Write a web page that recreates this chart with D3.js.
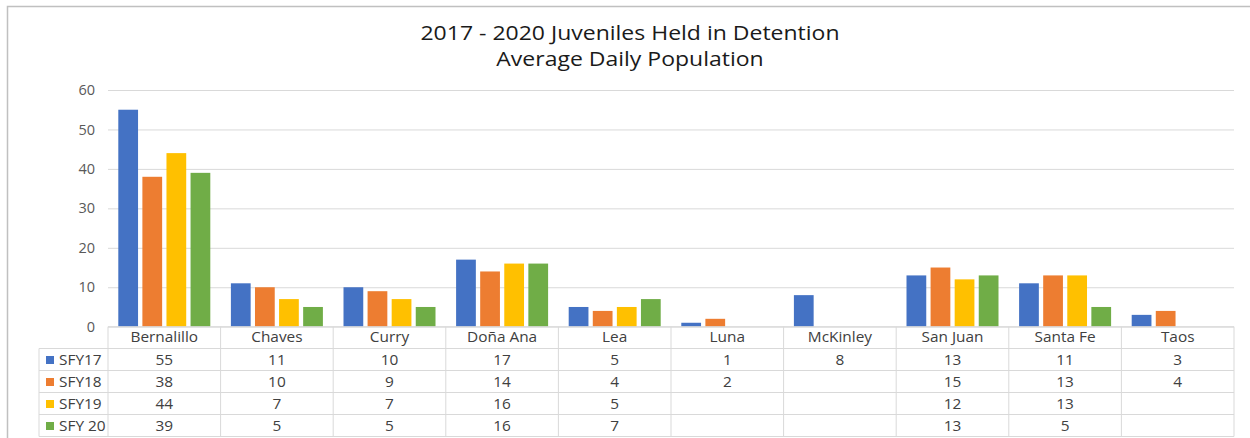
<!DOCTYPE html>
<html>
<head>
<meta charset="utf-8">
<script src="https://cdn.jsdelivr.net/npm/d3@7"></script>
<style>
  body { margin: 0; background: #fff; }
  svg { display: block; }
  text { font-family: "Open Sans", Lato, sans-serif; }
</style>
</head>
<body>
<svg id="chart" width="1250" height="438"></svg>
<script>
// Average daily juvenile detention population by county, SFY17–SFY20
const categories = ["Bernalillo", "Chaves", "Curry", "Doña Ana", "Lea", "Luna", "McKinley", "San Juan", "Santa Fe", "Taos"];
const seriesNames = ["SFY17", "SFY18", "SFY19", "SFY 20"];
const sfy17 = [55, 11, 10, 17, 5, 1, 8, 13, 11, 3];
const sfy18 = [38, 10, 9, 14, 4, 2, null, 15, 13, 4];
const sfy19 = [44, 7, 7, 16, 5, null, null, 12, 13, null];
const sfy20 = [39, 5, 5, 16, 7, null, null, 13, 5, null];
const seriesColors = ["#4472C4", "#ED7D31", "#FFC000", "#70AD47"];
const yTicks = [0, 10, 20, 30, 40, 50, 60];
const titleLines = ["2017 - 2020 Juveniles Held in Detention", "Average Daily Population"];

const seriesValues = [sfy17, sfy18, sfy19, sfy20];
const series = seriesNames.map((name, i) => ({
  name,
  color: seriesColors[i],
  values: categories.map((c, j) => ({ category: c, value: seriesValues[i][j] }))
}));

const svg = d3.select("#chart");
const gridColor = "#d9d9d9";
const labelColor = "#404040";
const labelSize = 14;
const textWiden = 1.1;   // slightly wide lettering for table and title

// Outer chart frame
svg.append("rect")
  .attr("x", 7.5).attr("y", 6.5)
  .attr("width", 1260).attr("height", 450)
  .attr("fill", "#fff")
  .attr("stroke", "#c0c0c0")
  .attr("stroke-width", 1.5);

// Title
svg.append("g").selectAll("text")
  .data(titleLines)
  .join("text")
  .attr("transform", (d, i) => `translate(630,${40 + i * 25.7}) scale(1.15,1)`)
  .attr("text-anchor", "middle")
  .attr("font-size", 20)
  .attr("fill", "#1a1a1a")
  .text(d => d);

// Scales
const plotLeft = 108, plotRight = 1234;
const x0 = d3.scaleBand().domain(categories).range([plotLeft, plotRight]);
const groupPad = 10.3;
const x1 = d3.scaleBand().domain(seriesNames)
  .range([groupPad, x0.bandwidth() - groupPad])
  .paddingInner(0.18);
const y = d3.scaleLinear().domain([0, 60]).range([326.7, 90]);

// Y axis with gridlines
const yAxis = svg.append("g")
  .attr("transform", `translate(${plotLeft},0)`)
  .call(d3.axisLeft(y).tickValues(yTicks).tickSize(-(plotRight - plotLeft)).tickPadding(13));
yAxis.select(".domain").remove();
yAxis.selectAll(".tick line").attr("stroke", gridColor).attr("stroke-width", 1);
yAxis.selectAll(".tick text")
  .attr("fill", "#595959")
  .attr("font-size", 14.5)
  .attr("font-family", "'Open Sans', Lato, sans-serif");

// Bars
svg.append("g").selectAll("g")
  .data(series)
  .join("g")
  .attr("fill", d => d.color)
  .selectAll("rect")
  .data(d => d.values.filter(v => v.value != null).map(v => ({ ...v, name: d.name })))
  .join("rect")
  .attr("x", d => x0(d.category) + x1(d.name))
  .attr("y", d => y(d.value))
  .attr("width", x1.bandwidth())
  .attr("height", d => y(0) - y(d.value));

// Data table under the axis
const tableTop = y(0);
const headerH = 21.8;
const rowH = 22;
const legendLeft = 39;
const table = svg.append("g");
const tableBottom = tableTop + headerH + rowH * series.length;

// Horizontal rules
table.append("line")
  .attr("x1", plotLeft).attr("x2", plotRight)
  .attr("y1", tableTop).attr("y2", tableTop)
  .attr("stroke", gridColor);
table.selectAll("line.row")
  .data(d3.range(series.length + 1))
  .join("line")
  .attr("class", "row")
  .attr("x1", legendLeft).attr("x2", plotRight)
  .attr("y1", i => tableTop + headerH + i * rowH)
  .attr("y2", i => tableTop + headerH + i * rowH)
  .attr("stroke", gridColor);

// Vertical rules
const colEdges = categories.map(c => x0(c)).concat([plotRight]);
table.selectAll("line.col")
  .data(colEdges)
  .join("line")
  .attr("class", "col")
  .attr("x1", d => d).attr("x2", d => d)
  .attr("y1", tableTop).attr("y2", tableBottom)
  .attr("stroke", gridColor);
table.append("line")
  .attr("x1", legendLeft).attr("x2", legendLeft)
  .attr("y1", tableTop + headerH).attr("y2", tableBottom)
  .attr("stroke", gridColor);

// Header: category names
table.selectAll("text.cat")
  .data(categories)
  .join("text")
  .attr("class", "cat")
  .attr("transform", c => `translate(${x0(c) + x0.bandwidth() / 2},${tableTop + 15.5}) scale(${textWiden},1)`)
  .attr("text-anchor", "middle")
  .attr("font-size", labelSize)
  .attr("fill", labelColor)
  .text(c => c);

// Rows: legend key + values
const rows = table.selectAll("g.rowg")
  .data(series)
  .join("g")
  .attr("class", "rowg")
  .attr("transform", (d, i) => `translate(0,${tableTop + headerH + i * rowH})`);

rows.append("rect")
  .attr("x", 46).attr("y", 7.5)
  .attr("width", 8).attr("height", 8)
  .attr("fill", d => d.color);

rows.append("text")
  .attr("transform", `translate(59,16) scale(${textWiden},1)`)
  .attr("font-size", labelSize)
  .attr("fill", labelColor)
  .text(d => d.name);

rows.selectAll("text.val")
  .data(d => d.values.filter(v => v.value != null))
  .join("text")
  .attr("class", "val")
  .attr("transform", v => `translate(${x0(v.category) + x0.bandwidth() / 2},16) scale(${textWiden},1)`)
  .attr("text-anchor", "middle")
  .attr("font-size", labelSize)
  .attr("fill", labelColor)
  .text(v => v.value);
</script>
</body>
</html>
